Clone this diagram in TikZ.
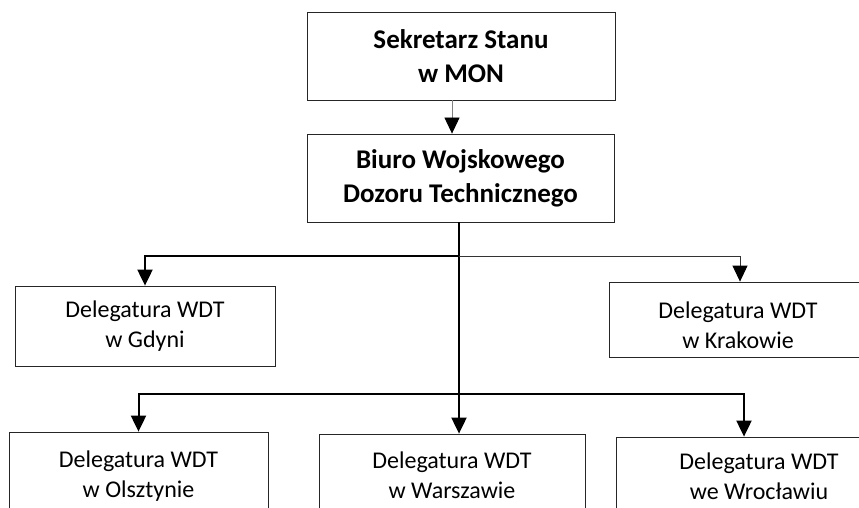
\documentclass[tikz,border=0pt]{standalone}
\usepackage{fontspec}
\setmainfont{Carlito}
\usetikzlibrary{arrows.meta}
\begin{document}
\begin{tikzpicture}[x=1pt,y=-1pt,
  box/.style={draw=black!85,line width=0.8pt,align=center,inner sep=0pt,
    font=\fontsize{24}{30}\selectfont},
  boldbox/.style={box,font=\fontsize{27}{34}\selectfont\bfseries},
  tip/.style={-{Triangle[length=16pt,width=15pt,color=black]}},
  thickline/.style={line width=2pt,black},
  thinline/.style={line width=0.8pt,black!80}]
\useasboundingbox (0,0) rectangle (859,508);
\clip (0,0) rectangle (859,508);
\node[boldbox,minimum width=308pt,minimum height=88pt] (sek) at (461,56) {Sekretarz Stanu\\w MON};
\node[boldbox,minimum width=307pt,minimum height=88pt] (biuro) at (460.5,178) {Biuro Wojskowego\\Dozoru Technicznego};
\node[box,minimum width=260pt,minimum height=80pt] (gdynia) at (145,326) {Delegatura WDT\\w Gdyni};
\node[box,minimum width=258pt,minimum height=75pt,
  label={[box,draw=none,yshift=-6pt]center:Delegatura WDT\\w Krakowie}] (krakow) at (738,319.5) {};
\node[box,minimum width=259pt,minimum height=88pt] (olsztyn) at (138.5,476) {Delegatura WDT\\w Olsztynie};
\node[box,minimum width=266pt,minimum height=82pt] (warszawa) at (452,475) {Delegatura WDT\\w Warszawie};
\node[box,minimum width=286pt,minimum height=78pt] (wroclaw) at (759,476) {Delegatura WDT\\we Wrocławiu};
\coordinate (h1) at (459,256);
\coordinate (h2) at (459,394);
\draw[thinline,black!50,tip] ([xshift=-9pt]sek.south) -- ([xshift=-9pt]sek.south |- biuro.north);
\draw[thickline,tip] (biuro.south -| h1) -- (h1 |- warszawa.north);
\draw[thickline,tip] (h1) -| (gdynia.north);
\draw[thinline,tip] (h1) -| ([xshift=2pt]krakow.north);
\draw[thickline,tip] (h2) -| (olsztyn.north);
\draw[thickline,tip] (h2) -| ([xshift=-15pt]wroclaw.north);
\end{tikzpicture}
\end{document}
